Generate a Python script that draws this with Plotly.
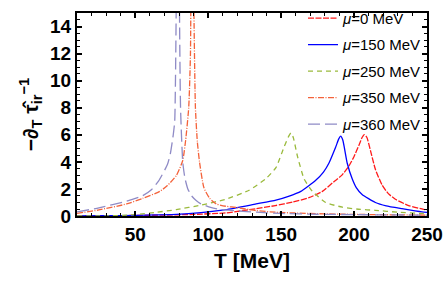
import plotly.graph_objects as go

# ---- data ----
labels = ["<i>μ</i>=0 MeV", "<i>μ</i>=150 MeV", "<i>μ</i>=250 MeV", "<i>μ</i>=350 MeV", "<i>μ</i>=360 MeV"]

T_mu0 = [10, 30, 50, 70, 90, 112, 132.8, 146, 158, 169, 178, 186, 191.5, 196.4, 200, 203.2, 205.5, 207, 208.8, 211.2, 214.6, 219.2, 223.5, 228.3, 237.4, 247.6, 250]
v_mu0 = [0.01, 0.02, 0.04, 0.07, 0.12, 0.23, 0.54, 0.77, 1.03, 1.35, 1.8, 2.52, 3.0, 3.69, 4.4, 5.2, 5.8, 6.02, 5.8, 4.85, 3.45, 2.29, 1.65, 1.24, 0.77, 0.49, 0.45]

T_mu150 = [10, 30, 50, 78, 95, 112, 132.8, 146.4, 155, 163.5, 173.7, 179, 182.8, 187.4, 189.5, 190.8, 192.3, 195.3, 198.7, 201.5, 205.5, 214.6, 222, 232.8, 246.5, 250]
v_mu150 = [0.0, 0.02, 0.05, 0.12, 0.25, 0.47, 0.89, 1.17, 1.45, 1.82, 2.64, 3.25, 3.92, 5.1, 5.7, 5.9, 5.6, 3.9, 2.75, 2.1, 1.59, 1.0, 0.75, 0.54, 0.3, 0.27]

T_mu250 = [10, 32.7, 50, 65, 78, 95, 112, 128, 139.4, 146.4, 152, 155.2, 156.7, 158.3, 161.2, 165.7, 171.4, 180.5, 192, 203, 214.6, 230, 246.5, 250]
v_mu250 = [0.0, 0.01, 0.1, 0.28, 0.47, 0.8, 1.24, 1.9, 2.75, 3.57, 5.1, 5.9, 6.14, 5.8, 4.4, 2.75, 1.82, 1.0, 0.65, 0.5, 0.42, 0.28, 0.19, 0.18]

T_mu350 = [10, 25, 44, 55, 66.8, 72, 78.2, 82.5, 84.5, 86.6, 87.8, 89, 90.2, 91.2, 92.5, 94, 97, 101, 105.5, 112, 119.7, 132.8, 146, 175, 200, 225, 250]
v_mu350 = [0.19, 0.45, 0.89, 1.3, 1.82, 2.25, 3.0, 4.1, 5.6, 8.0, 12.0, 40.0, 15.0, 8.0, 5.5, 4.0, 2.1, 1.3, 0.89, 0.72, 0.62, 0.4, 0.28, 0.17, 0.12, 0.09, 0.07]

T_mu360 = [10, 25, 44, 55, 61, 66, 72, 74, 76, 77, 78, 79.5, 80.3, 81, 82.5, 84, 86, 88.5, 91.7, 95, 101, 106, 112, 119.7, 133, 150, 175, 200, 225, 250]
v_mu360 = [0.3, 0.6, 1.1, 1.5, 1.94, 2.6, 3.8, 4.6, 6.0, 7.0, 15.0, 40.0, 15.0, 8.0, 4.0, 2.8, 2.0, 1.5, 1.15, 0.9, 0.65, 0.52, 0.45, 0.38, 0.28, 0.19, 0.13, 0.1, 0.08, 0.06]

x_ticks = [50, 100, 150, 200, 250]
y_ticks = [0, 2, 4, 6, 8, 10, 12, 14]

series = [
    (T_mu0, v_mu0, "#ff1a1a", "6px,1.5px"),
    (T_mu150, v_mu150, "#0000ff", "solid"),
    (T_mu250, v_mu250, "#9aba3c", "5px,4px"),
    (T_mu350, v_mu350, "#f4623a", "6px,1.5px,1px,1.5px"),
    (T_mu360, v_mu360, "#8f8bc6", "12px,5px"),
]

fig = go.Figure()
for (T, v, col, dash), lab in zip(series, labels):
    fig.add_trace(go.Scatter(
        x=T, y=v, mode="lines", name=lab, legendgroup=lab,
        line=dict(color=col, width=1.3, dash=dash, shape="spline", smoothing=0.5),
    ))

axis_common = dict(
    showline=True, linecolor="black", linewidth=2, mirror="ticks",
    ticks="inside", ticklen=5, tickwidth=1.5, tickcolor="black",
    showgrid=False, zeroline=False,
    tickfont=dict(family="Liberation Sans, Arial", size=19, color="black", weight="bold"),
)

fig.update_xaxes(
    range=[10, 250], tickvals=x_ticks,
    minor=dict(dtick=10, tick0=0, ticks="inside", ticklen=3, tickcolor="black", tickwidth=1),
    title=dict(text="<b>T [MeV]</b>", font=dict(family="Liberation Sans, Arial", size=21, color="black"), standoff=10),
    **axis_common,
)
fig.update_yaxes(
    range=[0, 15], tickvals=y_ticks,
    minor=dict(dtick=0.5, tick0=0, ticks="inside", ticklen=3, tickcolor="black", tickwidth=1),
    title=dict(text="<b>−∂<sub>T</sub> τ̂<sub>ir</sub><sup>−1</sup></b>", font=dict(family="Liberation Sans, Arial", size=21, color="black"), standoff=6),
    **axis_common,
)

fig.update_layout(
    width=447, height=283,
    margin=dict(l=77, r=20, t=2, b=67),
    paper_bgcolor="white", plot_bgcolor="white",
    legend=dict(x=1, xanchor="right", y=1.055, yanchor="top", bgcolor="rgba(0,0,0,0)",
                font=dict(family="Liberation Sans, Arial", size=15, color="black"),
                tracegroupgap=4),
    showlegend=True,
)

fig.write_html("out.html", config={"displayModeBar": False},
               post_script="document.body.style.margin='0';document.body.style.overflow='hidden';")
